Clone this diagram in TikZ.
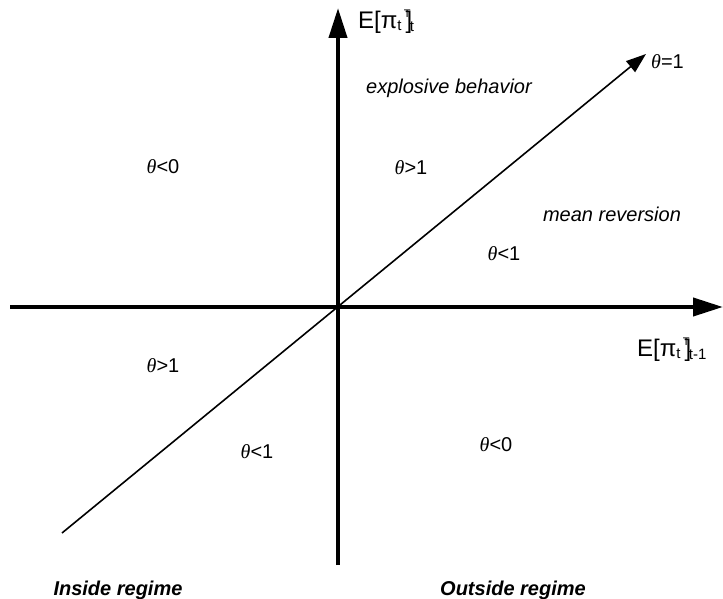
\documentclass[tikz,border=0pt]{standalone}
\usepackage{fontspec}
\setmainfont{Liberation Sans}
\usetikzlibrary{arrows.meta}
\newcommand{\thet}{{\fontspec{Liberation Serif}\itshape θ}}
\newcommand{\Epi}[1]{{\fontsize{24}{26}\selectfont E[π}\raisebox{-2pt}{\fontsize{15}{17}\selectfont t}\hspace{4pt}{\fontsize{24}{26}\selectfont ]}\kern-8.5pt\raisebox{11pt}{\fontsize{11}{12}\selectfont T}\kern-0.5pt\raisebox{-3pt}{\fontsize{15}{17}\selectfont #1}}
\begin{document}
\begin{tikzpicture}[x=1pt,y=-1pt,
  axis/.style={line width=4pt,-{Triangle[length=30pt,width=18pt]}},
  diag/.style={line width=1.6pt,-{Triangle[length=20pt,width=14pt]}},
  lbl/.style={font=\fontsize{20}{22}\selectfont,inner sep=0pt},
  ital/.style={font=\fontsize{20}{22}\selectfont\itshape,inner sep=0pt},
  regime/.style={font=\fontsize{20}{22}\selectfont\bfseries\itshape,inner sep=0pt},
  axlbl/.style={inner sep=0pt,anchor=west}]
\useasboundingbox (0,0) rectangle (723,599);
\coordinate (vb) at (338,565);
\coordinate (vt) at (338,8);
\coordinate (hl) at (10,307);
\coordinate (hr) at (723,307);
\coordinate (dl) at (62,533);
\coordinate (dr) at (646,54);
\draw[axis] (vb) -- (vt);
\draw[axis] (hl) -- (hr);
\draw[diag] (dl) -- (dr);
\node[axlbl] (ylab) at (358,22) {\Epi{t}};
\node[axlbl] (xlab) at (637,350) {\Epi{t-1}};
\node[ital] (expl) at (449,88) {explosive behavior};
\node[ital] (mean) at (612,214) {mean reversion};
\node[lbl,anchor=west] (t1) at (651,62) {\thet=1};
\node[lbl] (a) at (163,167) {\thet<0};
\node[lbl] (b) at (411,168) {\thet>1};
\node[lbl] (c) at (504,254) {\thet<1};
\node[lbl] (d) at (163,366) {\thet>1};
\node[lbl] (e) at (257,452) {\thet<1};
\node[lbl] (f) at (496,445) {\thet<0};
\node[regime] (ins) at (118,590) {Inside regime};
\node[regime] (out) at (513,590) {Outside regime};
\end{tikzpicture}
\end{document}
